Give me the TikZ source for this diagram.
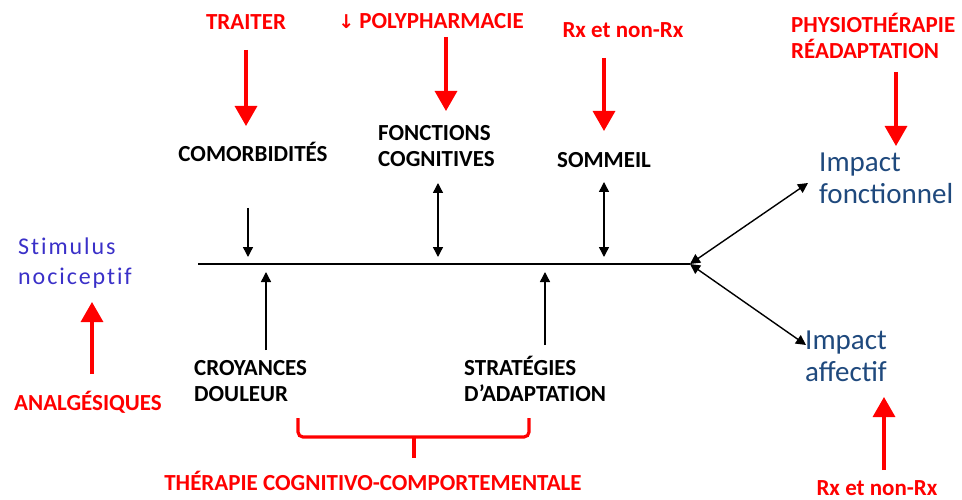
\documentclass[tikz,border=0pt]{standalone}
\usepackage{fontspec}
\setmainfont{Carlito}
\newfontfamily\arrowFont{DejaVu Sans}
\newfontfamily\spacedFont[LetterSpace=8,Ligatures={NoCommon}]{Carlito}
\usetikzlibrary{arrows.meta}
\definecolor{remedyRed}{RGB}{255,0,0}
\definecolor{impactBlue}{RGB}{31,73,125}
\definecolor{stimulusBlue}{RGB}{58,48,200}
\newcommand{\spineY}{264}
\newcommand{\capsFont}{\bfseries\fontsize{23}{26}\selectfont}
\newcommand{\impactFont}{\fontsize{29}{32}\selectfont}

\begin{document}
\begin{tikzpicture}[x=1pt,y=-1pt,
    cause/.style={font=\capsFont, align=left, inner sep=0pt},
    remedy/.style={font=\capsFont, text=remedyRed, align=left, inner sep=0pt},
    effect/.style={font=\impactFont, text=impactBlue, align=left, inner sep=0pt, anchor=west},
    link/.style={-{Triangle[length=10pt,width=10pt]}, line width=1.4pt},
    twoway/.style={{Triangle[length=10pt,width=10pt]}-{Triangle[length=10pt,width=10pt]}, line width=1.4pt},
    push/.style={-{Triangle[length=20pt,width=22pt]}, remedyRed, line width=3.2pt}]
  \useasboundingbox (0,0) rectangle (962,500);

  % spine
  \coordinate (tail) at (198,\spineY);
  \coordinate (head) at (690,\spineY);
  \draw[line width=1.4pt] (tail) -- (head);

  % causes above and below
  \node[cause] (comorb) at (253,152) {COMORBIDITÉS};
  \node[cause, anchor=west] (cognit) at (378,146) {FONCTIONS\\COGNITIVES};
  \node[cause] (sommeil) at (604,160) {SOMMEIL};
  \node[cause, anchor=west] (croyances) at (194,381) {CROYANCES\\DOULEUR};
  \node[cause, anchor=west] (strategies) at (464,379) {STRATÉGIES\\D’ADAPTATION};

  \coordinate (s1) at (248,\spineY-7);
  \coordinate (s2) at (438,\spineY-7);
  \coordinate (s3) at (604,\spineY-7);
  \coordinate (s4) at (266,\spineY+8);
  \coordinate (s5) at (545,\spineY+8);
  \draw[link] (s1 |- 0,208) -- (s1);
  \draw[twoway] (s2 |- 0,183) -- (s2);
  \draw[twoway] (s3 |- 0,182) -- (s3);
  \draw[link] (s4 |- 0,350) -- (s4);
  \draw[link] (s5 |- 0,345) -- (s5);

  % effects
  \node[effect] (fonctionnel) at (819,178) {Impact\\fonctionnel};
  \node[effect] (affectif) at (805,356) {Impact\\affectif};
  \draw[twoway] (head) -- (808,183);
  \draw[twoway] (head) -- (806,345);

  \node[font=\spacedFont\fontsize{24}{30}\selectfont, text=stimulusBlue, align=left,
        inner sep=0pt, anchor=west] (stimulus) at (18,263) {Stimulus\\nociceptif};

  % interventions
  \node[remedy] (traiter) at (246,22) {TRAITER};
  \node[remedy] (polypharm) at (431,21) {{\arrowFont\fontsize{19}{20}\selectfont↓} POLYPHARMACIE};
  \node[remedy] (rxHaut) at (623,30) {Rx et non-Rx};
  \node[remedy, anchor=west] (physio) at (791,36) {PHYSIOTHÉRAPIE\\RÉADAPTATION};
  \node[remedy] (analgesiques) at (88,402) {ANALGÉSIQUES};
  \node[remedy] (tcc) at (373,481) {THÉRAPIE COGNITIVO-COMPORTEMENTALE};
  \node[remedy] (rxBas) at (877,488) {Rx et non-Rx};

  \draw[push] (246,50) -- (246,126);
  \draw[push] (446,37) -- (446,111);
  \draw[push] (604,58) -- (604,131);
  \draw[push] (896,72) -- (896,146);
  \draw[push] (92,374) -- (92,302);
  \draw[push] (884,470) -- (884,397);

  % brace under croyances / strategies
  \draw[remedyRed, line width=3.2pt, rounded corners=5pt]
    (298,418) -- (298,437) -- (529,437) -- (529,418);
  \draw[remedyRed, line width=3.2pt] (414,437) -- (414,458);
\end{tikzpicture}
\end{document}
